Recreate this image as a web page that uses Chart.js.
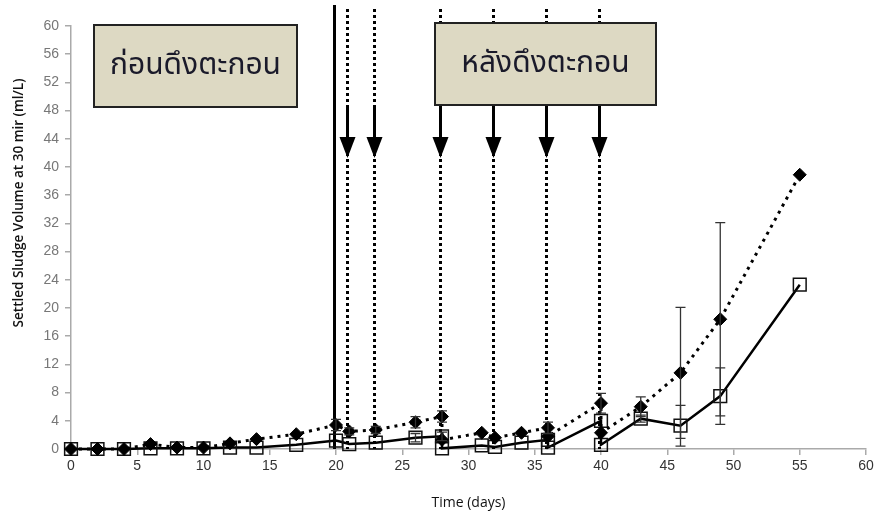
<!DOCTYPE html>
<html>
<head>
<meta charset="utf-8">
<script src="https://cdn.jsdelivr.net/npm/chart.js@4"></script>
<style>
html, body { margin: 0; padding: 0; background: #fff; }
</style>
</head>
<body>
<canvas id="myChart" width="877" height="515"></canvas>
<script>
// ชุดข้อมูล ◆ (เส้นประ) — วันที่และปริมาตรตะกอน
let diaDays = [0, 2, 4, 6, 8, 10, 12, 14, 17, 20, 21, 23, 26, 28, 28, 31, 32, 34, 36, 36, 40, 40, 43, 46, 49, 55];
let diaVals = [0, 0, 0, 0.7, 0.2, 0.2, 0.8, 1.4, 2.1, 3.4, 2.5, 2.7, 3.8, 4.6, 1.3, 2.3, 1.6, 2.3, 3.0, 1.8, 6.5, 2.3, 6.0, 10.8, 18.4, 38.9];
let diaErr  = [null, null, null, null, null, null, null, null, null, 0.8, 0.5, 0.5, 0.8, 0.8, null, null, null, null, 0.8, null, 1.4, null, 1.4, 9.3, 13.7, null];

// ชุดข้อมูล □ (เส้นทึบ)
let sqDays = [0, 2, 4, 6, 8, 10, 12, 14, 17, 20, 21, 23, 26, 28, 28, 31, 32, 34, 36, 36, 40, 40, 43, 46, 49, 55];
let sqVals = [0, 0, 0, 0.1, 0.1, 0.1, 0.2, 0.2, 0.6, 1.2, 0.7, 0.9, 1.6, 1.8, 0.1, 0.5, 0.3, 0.9, 1.3, 0.2, 4.0, 0.6, 4.3, 3.3, 7.5, 23.3];
let sqErr  = [null, null, null, null, null, null, null, null, null, null, null, null, 0.6, 0.6, null, null, null, null, null, null, null, null, 0.5, 2.9, 4.0, null];

// วันเริ่ม และวันที่ดึงตะกอน
let startDay = 20;
let pullDays = [21, 23, 28, 32, 36, 40];

// แกน
let xTicks = [0, 5, 10, 15, 20, 25, 30, 35, 40, 45, 50, 55, 60];
let yTicks = [0, 4, 8, 12, 16, 20, 24, 28, 32, 36, 40, 44, 48, 52, 56, 60];

function toPoints(xs, ys) {
    return xs.map(function (x, i) { return { x: x, y: ys[i] }; });
}

// เส้นแนวตั้ง ลูกศร และกล่องข้อความ
let marks = {
    id: 'marks',
    beforeDatasetsDraw: function (chart) {
        let c = chart.ctx;
        let xs = chart.scales.x, ys = chart.scales.y;
        let y0 = ys.getPixelForValue(0);
        c.save();
        // เส้นทึบวันเริ่ม
        c.strokeStyle = '#000';
        c.lineWidth = 3;
        c.beginPath();
        let sx = Math.round(xs.getPixelForValue(startDay)) - 1.5;
        c.moveTo(sx, 5);
        c.lineTo(sx, y0);
        c.stroke();
        // เส้นประวันดึงตะกอน
        pullDays.forEach(function (d) {
            let px = Math.round(xs.getPixelForValue(d)) - 1.5;
            c.setLineDash([3, 3]);
            c.lineWidth = 3;
            c.beginPath();
            c.moveTo(px, 9);
            c.lineTo(px, y0);
            c.stroke();
            c.setLineDash([]);
            // ก้านลูกศร
            c.lineWidth = 3;
            c.beginPath();
            c.moveTo(px, 106);
            c.lineTo(px, 141);
            c.stroke();
            // หัวลูกศร
            c.fillStyle = '#000';
            c.beginPath();
            c.moveTo(px - 8, 137);
            c.lineTo(px + 8, 137);
            c.lineTo(px, 158);
            c.closePath();
            c.fill();
        });
        c.restore();
    },
    afterDatasetsDraw: function (chart) {
        let c = chart.ctx;
        let ys = chart.scales.y;
        // แถบความคลาดเคลื่อน
        [[0, diaErr], [1, sqErr]].forEach(function (pair) {
            let meta = chart.getDatasetMeta(pair[0]);
            let vals = chart.data.datasets[pair[0]].data;
            c.save();
            c.strokeStyle = '#333';
            c.lineWidth = 1.3;
            meta.data.forEach(function (pt, i) {
                let e = pair[1][i];
                if (e == null) return;
                let v = vals[i].y;
                let top = ys.getPixelForValue(v + e);
                let bot = ys.getPixelForValue(Math.max(v - e, 0));
                c.beginPath();
                c.moveTo(pt.x, top); c.lineTo(pt.x, bot);
                c.moveTo(pt.x - 5, top); c.lineTo(pt.x + 5, top);
                c.moveTo(pt.x - 5, bot); c.lineTo(pt.x + 5, bot);
                c.stroke();
            });
            c.restore();
        });
    },
    afterDraw: function (chart) {
        let c = chart.ctx;
        c.save();
        // กล่องข้อความ
        let boxes = [
            { x: 94, y: 25, w: 203, h: 82, text: 'ก่อนดึงตะกอน' },
            { x: 435, y: 23, w: 221, h: 82, text: 'หลังดึงตะกอน' }
        ];
        boxes.forEach(function (b) {
            c.fillStyle = '#ddd9c3';
            c.fillRect(b.x, b.y, b.w, b.h);
            c.strokeStyle = '#222';
            c.lineWidth = 2;
            c.strokeRect(b.x, b.y, b.w, b.h);
            c.fillStyle = '#1a1a2a';
            c.font = '30px "Noto Sans Thai", "Loma", "Garuda", "DejaVu Sans", sans-serif';
            c.textAlign = 'center';
            c.textBaseline = 'middle';
            c.fillText(b.text, b.x + b.w / 2, b.y + b.h / 2 + 2);
        });
        // ชื่อแกน y
        c.translate(19, 203);
        c.rotate(-Math.PI / 2);
        c.fillStyle = '#111';
        c.font = '600 13.5px "Open Sans", sans-serif';
        c.textAlign = 'center';
        c.textBaseline = 'middle';
        c.fillText('Settled Sludge Volume at 30 mir (ml/L)', 0, 0);
        c.restore();
    }
};

let ctx = document.getElementById('myChart').getContext('2d');
let chart = new Chart(ctx, {
    type: 'line',
    data: {
        datasets: [{
            data: toPoints(diaDays, diaVals),
            borderColor: '#000',
            borderWidth: 3,
            borderDash: [3, 5],
            pointStyle: 'rectRot',
            pointRadius: 6.5,
            pointBackgroundColor: '#000',
            pointBorderColor: '#000',
            pointBorderWidth: 1,
            tension: 0,
            clip: false
        }, {
            data: toPoints(sqDays, sqVals),
            borderColor: '#000',
            borderWidth: 2.5,
            pointStyle: 'rect',
            pointRadius: 9,
            pointBackgroundColor: 'rgba(0,0,0,0)',
            pointBorderColor: '#111',
            pointBorderWidth: 1.5,
            tension: 0,
            clip: false
        }]
    },
    options: {
        responsive: false,
        animation: false,
        layout: { padding: { top: 26, right: 11, left: 0, bottom: 0 } },
        plugins: { legend: { display: false }, tooltip: { enabled: false } },
        scales: {
            x: {
                type: 'linear',
                min: 0, max: 60,
                afterFit: function (s) { s.height = 66; },
                afterBuildTicks: function (s) { s.ticks = xTicks.map(function (v) { return { value: v }; }); },
                grid: { drawOnChartArea: false, drawTicks: true, tickLength: 6, color: '#aaa', lineWidth: 1.5 },
                border: { color: '#aaa', width: 1.5 },
                ticks: { color: '#333', font: { size: 14, family: '"Liberation Sans Narrow", "Liberation Sans", sans-serif' }, padding: 3, maxRotation: 0 },
                title: { display: true, text: 'Time (days)', color: '#111', font: { size: 14, family: '"Open Sans", sans-serif' }, padding: { top: 2 } }
            },
            y: {
                min: 0, max: 60,
                afterFit: function (s) { s.width = 71; },
                afterBuildTicks: function (s) { s.ticks = yTicks.map(function (v) { return { value: v }; }); },
                grid: { drawOnChartArea: false, drawTicks: true, tickLength: 6, color: '#aaa', lineWidth: 1.5 },
                border: { color: '#aaa', width: 1.5 },
                ticks: { color: '#777', font: { size: 14, family: '"Liberation Sans Narrow", "Liberation Sans", sans-serif' }, padding: 6 }
            }
        }
    },
    plugins: [marks]
});
</script>
</body>
</html>
